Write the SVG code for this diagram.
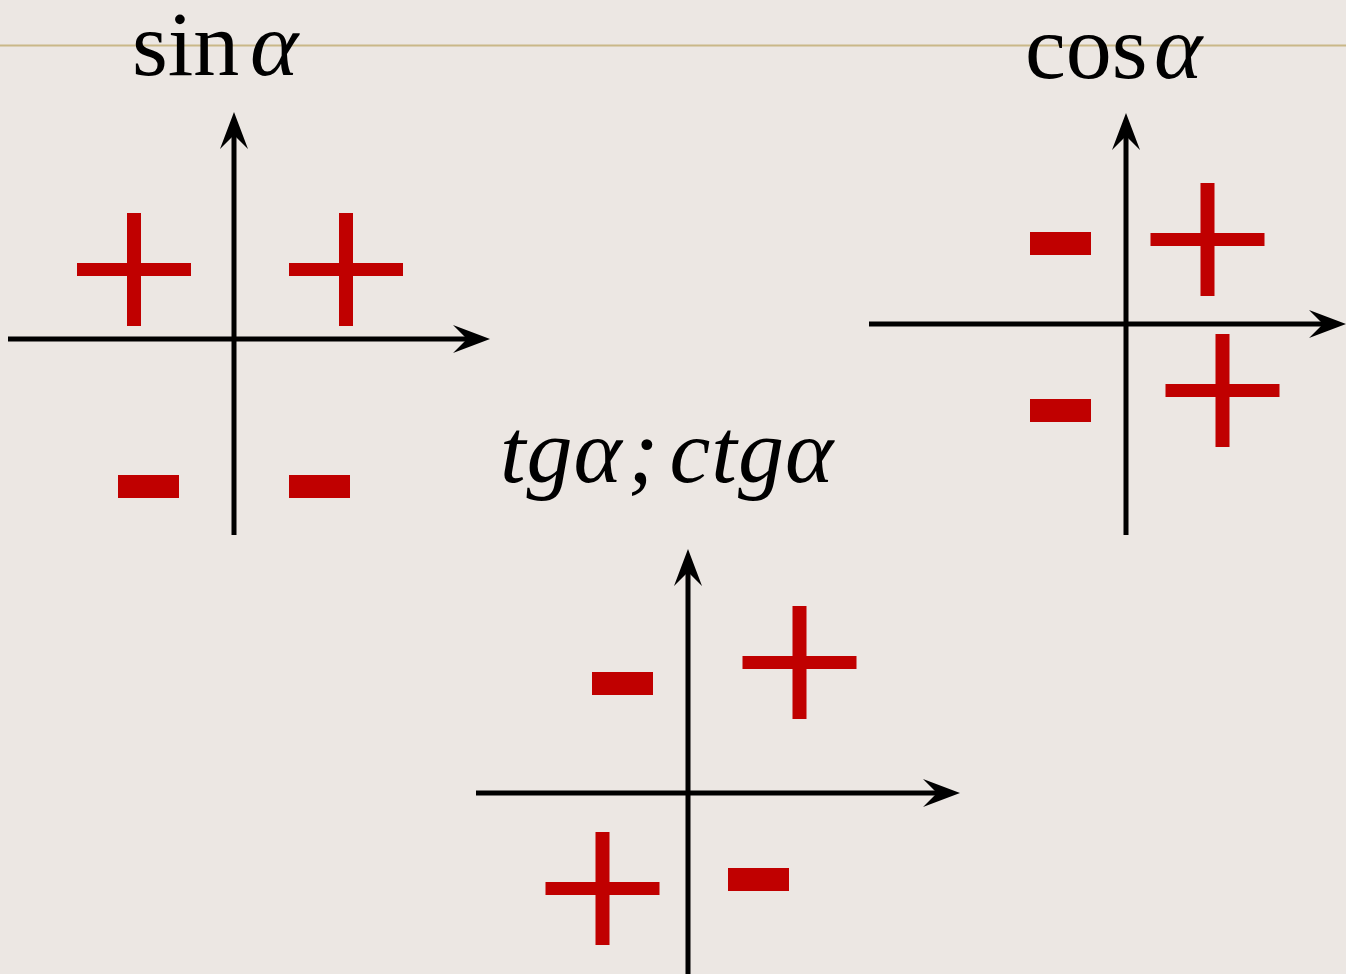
<svg xmlns="http://www.w3.org/2000/svg" width="1346" height="974" viewBox="0 0 1346 974">
  <style>
    .axis { stroke: #000; stroke-width: 5; fill: none; marker-end: url(#arrow); }
    .sign { fill: #C00000; }
    .rom { font-family: "Liberation Serif", "Times New Roman", serif; font-size: 92px; fill: #000; }
    .ital { font-family: "Liberation Serif", "Times New Roman", serif; font-style: italic; font-size: 92px; fill: #000; }
  </style>
  <defs>
    <marker id="arrow" markerUnits="userSpaceOnUse" markerWidth="60" markerHeight="40" refX="0" refY="0" orient="auto" overflow="visible">
      <path d="M20,0 L-17,-14 L-3,0 L-17,14 Z" fill="#000"/>
    </marker>
    <g id="plus">
      <rect x="-57" y="-6.5" width="114" height="13"/>
      <rect x="-7" y="-56.5" width="14" height="113"/>
    </g>
    <rect id="minus" x="-30.5" y="-11.5" width="61" height="23"/>
  </defs>

  <rect width="1346" height="974" fill="#ECE7E3"/>
  <line x1="0" y1="45.5" x2="1346" y2="45.5" stroke="#C9B888" stroke-width="2"/>

  <!-- sine chart -->
  <g id="sin-chart">
    <text class="rom" x="132" y="75">sin</text>
    <text class="ital" x="250" y="75">α</text>
    <line class="axis" x1="8" y1="339" x2="470" y2="339"/>
    <line class="axis" x1="234" y1="535" x2="234" y2="132"/>
    <g class="sign">
      <use href="#plus" x="134" y="269.5"/>
      <use href="#plus" x="346" y="269.5"/>
      <use href="#minus" x="148.5" y="486.5"/>
      <use href="#minus" x="319.5" y="486.5"/>
    </g>
  </g>

  <!-- cosine chart -->
  <g id="cos-chart">
    <text class="rom" x="1025" y="78">cos</text>
    <text class="ital" x="1154" y="78">α</text>
    <line class="axis" x1="869" y1="324" x2="1326" y2="324"/>
    <line class="axis" x1="1126" y1="535" x2="1126" y2="133"/>
    <g class="sign">
      <use href="#plus" x="1207.5" y="239.5"/>
      <use href="#plus" x="1222.5" y="390.5"/>
      <use href="#minus" x="1060.5" y="243.5"/>
      <use href="#minus" x="1060.5" y="410.5"/>
    </g>
  </g>

  <!-- tangent / cotangent chart -->
  <g id="tg-chart">
    <text class="ital" x="500" y="482" letter-spacing="1">tgα<tspan dx="5">;</tspan><tspan dx="10">ctgα</tspan></text>
    <line class="axis" x1="476" y1="793" x2="940" y2="793"/>
    <line class="axis" x1="688" y1="974" x2="688" y2="569"/>
    <g class="sign">
      <use href="#plus" x="799.5" y="662.5"/>
      <use href="#plus" x="602.5" y="888.5"/>
      <use href="#minus" x="622.5" y="683.5"/>
      <use href="#minus" x="758.5" y="879.5"/>
    </g>
  </g>
</svg>
